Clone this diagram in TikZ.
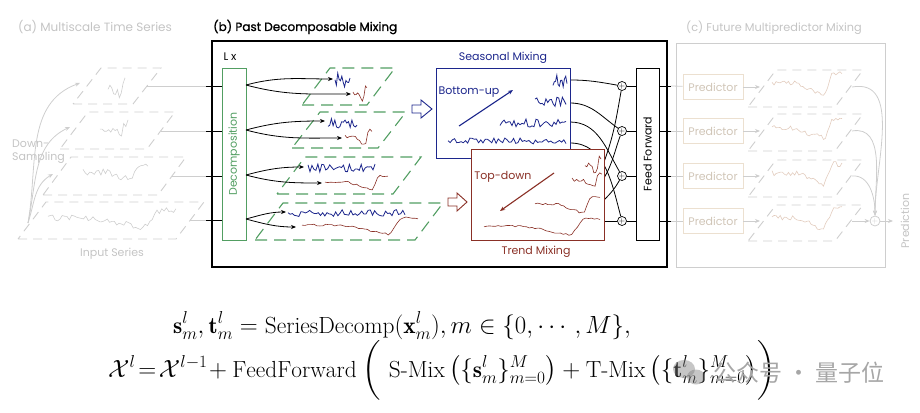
\documentclass[tikz,border=0pt]{standalone}
\usepackage{fontspec}
\usepackage{amsmath}
\newfontfamily\futura{Poppins}
\newfontfamily\futurab{Poppins}[FakeBold=1.2]
\newfontfamily\cjk{Noto Sans CJK SC}
\usetikzlibrary{arrows.meta}

\definecolor{fadegray}{RGB}{206,206,206}
\definecolor{fadetext}{RGB}{196,196,196}
\definecolor{decgreen}{RGB}{82,158,98}
\definecolor{seasblue}{RGB}{28,38,140}
\definecolor{trendred}{RGB}{138,48,38}
\definecolor{predbeige}{RGB}{236,224,208}
\definecolor{wavebeige}{RGB}{226,204,190}

\newcommand\slab[5]{\draw[#1] (#2,#5) -- ({#2+#3},#5) -- ({#2+#3+28},#4) -- ({#2+28},#4) -- cycle;}
\newcommand\noisy[6]{\draw[#1] plot[domain=#2:#3, samples=#6] (\x,{#4+#5*rand});}
\newcommand\trendy[7]{\draw[#1] plot[domain=0:1, samples=#7] ({#2+(#3-#2)*\x},{#4+#5*trendshape(\x)+#6*rand});}

\tikzset{
  graylayer/.style={fadegray, line width=0.9pt, dash pattern=on 9pt off 6pt},
  greenlayer/.style={decgreen, line width=1.1pt, dash pattern=on 12pt off 7pt},
  graywave/.style={fadegray, line width=0.6pt},
  bluewave/.style={seasblue, line width=0.8pt},
  redwave/.style={trendred, line width=0.6pt},
  beigewave/.style={wavebeige, line width=0.6pt},
  lbl/.style={font=\futura\fontsize{11}{13}\selectfont, inner sep=0pt},
  ttl/.style={font=\futura\fontsize{12}{14}\selectfont, inner sep=0pt, text=fadetext},
  sumnode/.style={draw, circle, minimum size=9pt, inner sep=0pt, fill=white, line width=0.7pt, font=\fontsize{8}{8}\selectfont},
  predbox/.style={lbl, draw=predbeige, text=predbeige!88!black, line width=0.9pt, minimum width=60pt, minimum height=25pt},
  conn/.style={line width=0.8pt},
}

\begin{document}
\begin{tikzpicture}[x=1pt, y=-1pt, >={Stealth[length=5pt,width=4pt]},
  declare function={trendshape(\t)=(\t<0.35)*0+(\t>0.35)*(\t<0.75)*(\t-0.35)*2+(\t>0.75)*max(-0.6,0.8-(\t-0.75)*14);}]
\useasboundingbox (0,0) rectangle (920,412);
\pgfmathsetseed{7}

\node[ttl] (atitle) at (95,27) {(a) Multiscale Time Series};
\slab{graylayer}{73}{60}{68}{104}
\slab{graylayer}{60}{87}{112}{149}
\slab{graylayer}{43}{115}{157}{195}
\slab{graylayer}{18}{158}{202}{239}
\trendy{graywave}{108}{125}{88}{10}{6}{10}
\trendy{graywave}{100}{128}{128}{8}{4}{14}
\trendy{graywave}{83}{148}{172}{10}{3}{30}
\trendy{graywave}{48}{176}{218}{12}{3}{55}
\node[lbl, text=fadetext, anchor=west, align=left] (down) at (12,152) {Down-\\Sampling};
\node[lbl, text=fadetext] (input) at (112,254) {Input Series};
\coordinate (ds) at (28,223);
\coordinate (a1) at (80,83);
\coordinate (a2) at (70,127);
\coordinate (a3) at (53,174);
\draw[fadegray, conn, ->] (ds) to[out=80, in=200] (a1);
\draw[fadegray, conn, ->] (ds) to[out=78, in=205] (a2);
\draw[fadegray, conn, ->] (ds) to[out=72, in=210] (a3);
\coordinate (in1) at (147,86);
\coordinate (in2) at (161,131);
\coordinate (in3) at (172,176);
\coordinate (in4) at (190,220);
\coordinate (fb1) at (206,86);
\coordinate (fb2) at (206,131);
\coordinate (fb3) at (206,176);
\coordinate (fb4) at (206,220);
\draw[fadegray, conn] (in1) -- (fb1);
\draw[fadegray, conn] (in2) -- (fb2);
\draw[fadegray, conn] (in3) -- (fb3);
\draw[fadegray, conn] (in4) -- (fb4);

\node[inner sep=0pt, anchor=west, font=\futurab\fontsize{12}{14}\selectfont] (btitle) at (213,27) {(b) Past Decomposable Mixing};
\draw[line width=1.3pt] (212,41) rectangle (667,267);
\node[lbl] (lx) at (230,57) {L x};
\node[draw=decgreen, line width=1pt, minimum width=24pt, minimum height=172pt] (decomp) at (234,154) {};
\node[lbl, text=decgreen, rotate=90] (decomptext) at (decomp.center) {Decomposition};
\coordinate (dw1) at (222,86);
\coordinate (dw2) at (222,131);
\coordinate (dw3) at (222,176);
\coordinate (dw4) at (222,220);
\draw[conn] (fb1) -- (dw1);
\draw[conn] (fb2) -- (dw2);
\draw[conn] (fb3) -- (dw3);
\draw[conn] (fb4) -- (dw4);

\slab{greenlayer}{302}{65}{68}{105}
\slab{greenlayer}{292}{86}{112}{148}
\slab{greenlayer}{277}{116}{157}{194}
\slab{greenlayer}{255}{160}{203}{240}
\noisy{bluewave}{335}{350}{80}{7}{12}
\noisy{bluewave}{328}{357}{123}{5}{18}
\noisy{bluewave}{308}{375}{168}{4}{35}
\noisy{bluewave}{288}{405}{213}{3.5}{55}
\trendy{redwave}{353}{367}{93}{10}{2}{10}
\trendy{redwave}{345}{372}{137}{10}{2}{14}
\trendy{redwave}{325}{388}{182}{10}{1}{25}
\trendy{redwave}{302}{418}{225}{12}{1}{40}
\coordinate (d1) at (246,85);
\coordinate (d2) at (246,130);
\coordinate (d3) at (246,175);
\coordinate (d4) at (246,219);
\coordinate (s1) at (333,79);
\coordinate (t1) at (351,94);
\coordinate (s2) at (325,121);
\coordinate (t2) at (342,138);
\coordinate (s3) at (304,167);
\coordinate (t3) at (322,183);
\coordinate (s4) at (286,212);
\coordinate (t4) at (296,227);
\draw[conn, ->] (d1) to[out=15, in=180] (s1);
\draw[conn, ->] (d1) to[out=-15, in=180] (t1);
\draw[conn, ->] (d2) to[out=15, in=180] (s2);
\draw[conn, ->] (d2) to[out=-15, in=180] (t2);
\draw[conn, ->] (d3) to[out=15, in=180] (s3);
\draw[conn, ->] (d3) to[out=-15, in=180] (t3);
\draw[conn, ->] (d4) to[out=15, in=180] (s4);
\draw[conn, ->] (d4) to[out=-15, in=180] (t4);

\draw[seasblue, line width=0.9pt, fill=white] (412,105) -- (421,105) -- (421,100) -- (432,109) -- (421,118) -- (421,113) -- (412,113) -- cycle;
\draw[trendred, line width=0.9pt, fill=white] (448,198) -- (457,198) -- (457,193) -- (467,202) -- (457,211) -- (457,206) -- (448,206) -- cycle;

\coordinate (sa1) at (570,80);
\coordinate (sa2) at (570,103);
\coordinate (sa3) at (570,122);
\coordinate (sa4) at (570,143);
\coordinate (ta1) at (604,162);
\coordinate (ta2) at (604,178);
\coordinate (ta3) at (604,200);
\coordinate (ta4) at (604,221);
\node[sumnode] (c1) at (622,86) {$+$};
\node[sumnode] (c2) at (622,131) {$+$};
\node[sumnode] (c3) at (622,176) {$+$};
\node[sumnode] (c4) at (622,221) {$+$};
\draw[conn] (sa1) to[out=0, in=170] (c1);
\draw[conn] (sa2) to[out=0, in=145] (c2);
\draw[conn] (sa3) to[out=0, in=120] (c3);
\draw[conn] (sa4) to[out=0, in=105] (c4);
\draw[conn] (ta1) to[out=70, in=-100] (c1);
\draw[conn] (ta2) to[out=60, in=-110] (c2);
\draw[conn] (ta3) to[out=45, in=-120] (c3);
\draw[conn] (ta4) -- (c4);

\node[draw=seasblue, line width=1pt, fill=white, minimum width=134pt, minimum height=90pt] (sbox) at (503,113) {};
\node[lbl, text=seasblue] (stitle) at (503,58) {Seasonal Mixing};
\node[lbl, text=seasblue] (bu) at (469,92) {Bottom-up};
\coordinate (bua) at (459,126);
\coordinate (bub) at (513,90);
\draw[seasblue, line width=1.1pt, ->] (bua) -- (bub);
\noisy{bluewave}{553}{567}{82}{7}{12}
\noisy{bluewave}{535}{566}{102}{5}{18}
\noisy{bluewave}{500}{566}{123}{4}{34}
\noisy{bluewave}{448}{566}{141}{3}{55}

\node[draw=trendred, line width=1pt, fill=white, minimum width=133pt, minimum height=91pt] (tbox) at (537.5,194.5) {};
\node[lbl, text=trendred] (ttitle) at (536,252) {Trend Mixing};
\node[lbl, text=trendred] (td) at (503,177) {Top-down};
\coordinate (tda) at (554,173);
\coordinate (tdb) at (500,211);
\draw[trendred, line width=1.1pt, ->] (tda) -- (tdb);
\trendy{redwave}{585}{601}{166}{12}{3}{10}
\trendy{redwave}{572}{602}{180}{10}{2}{14}
\trendy{redwave}{535}{600}{204}{12}{1}{26}
\trendy{redwave}{484}{600}{226}{12}{1}{42}

\node[draw, line width=1pt, minimum width=23pt, minimum height=172pt] (ff) at (647.5,154) {};
\node[lbl, rotate=90] (fftext) at (ff.center) {Feed Forward};
\coordinate (fi1) at (636,86);
\coordinate (fi2) at (636,131);
\coordinate (fi3) at (636,176);
\coordinate (fi4) at (636,221);
\draw[conn] (c1) -- (fi1);
\draw[conn] (c2) -- (fi2);
\draw[conn] (c3) -- (fi3);
\draw[conn] (c4) -- (fi4);
\coordinate (fo1) at (659,86);
\coordinate (fo2) at (659,131);
\coordinate (fo3) at (659,176);
\coordinate (fo4) at (659,221);
\coordinate (fe1) at (671,86);
\coordinate (fe2) at (671,131);
\coordinate (fe3) at (671,176);
\coordinate (fe4) at (671,221);
\draw[conn] (fo1) -- (fe1);
\draw[conn] (fo2) -- (fe2);
\draw[conn] (fo3) -- (fe3);
\draw[conn] (fo4) -- (fe4);

\node[ttl, font=\futura\fontsize{11.3}{13}\selectfont] (ctitle) at (774,28) {(c) Future Multipredictor Mixing};
\draw[fadegray, line width=0.9pt] (676,43) rectangle (885,267);
\node[predbox] (p1) at (713,87) {Predictor};
\node[predbox] (p2) at (713,131) {Predictor};
\node[predbox] (p3) at (713,176) {Predictor};
\node[predbox] (p4) at (713,221) {Predictor};
\draw[fadegray, conn] (fe1) -- (p1);
\draw[fadegray, conn] (fe2) -- (p2);
\draw[fadegray, conn] (fe3) -- (p3);
\draw[fadegray, conn] (fe4) -- (p4);
\coordinate (q1) at (760,87);
\coordinate (q2) at (760,131);
\coordinate (q3) at (760,176);
\coordinate (q4) at (760,221);
\draw[fadegray, conn, ->] (p1) -- (q1);
\draw[fadegray, conn, ->] (p2) -- (q2);
\draw[fadegray, conn, ->] (p3) -- (q3);
\draw[fadegray, conn, ->] (p4) -- (q4);
\slab{graylayer}{748}{87}{70}{107}
\slab{graylayer}{748}{87}{114}{151}
\slab{graylayer}{748}{87}{160}{197}
\slab{graylayer}{748}{87}{205}{241}
\trendy{beigewave}{772}{842}{83}{16}{2}{35}
\trendy{beigewave}{772}{842}{128}{14}{3}{35}
\trendy{beigewave}{772}{842}{173}{14}{3}{35}
\trendy{beigewave}{772}{842}{218}{14}{3}{35}
\node[draw=fadegray, circle, minimum size=10pt, inner sep=0pt, line width=0.8pt, text=fadegray, font=\fontsize{8}{8}\selectfont] (cs) at (875,221) {$+$};
\coordinate (r1) at (852,87);
\coordinate (r2) at (852,131);
\coordinate (r3) at (852,176);
\coordinate (r4) at (852,221);
\draw[fadegray, conn, ->] (r1) to[out=10, in=90] (cs);
\draw[fadegray, conn, ->] (r2) to[out=10, in=90] (cs);
\draw[fadegray, conn, ->] (r3) to[out=5, in=90] (cs);
\draw[fadegray, conn, ->] (r4) -- (cs);
\coordinate (pr) at (893,221);
\draw[fadegray, conn, ->] (cs) -- (pr);
\node[lbl, text=fadetext, rotate=90] (pred) at (905,221) {Prediction};

\node[anchor=base west, inner sep=0pt] (eq1) at (173,333) {\fontsize{23.4}{28}\selectfont $\mathbf{s}^l_m, \mathbf{t}^l_m = \mathrm{SeriesDecomp}(\mathbf{x}^l_m), m \in \{0,\cdots,M\},$};
\node[anchor=base west, inner sep=0pt] (eq2) at (108,377) {\fontsize{23.3}{28}\selectfont $\mathcal{X}^l \!=\! \mathcal{X}^{l-1}\!+\mathrm{FeedForward}\hspace{6pt}\biggl(\hspace{8pt}\text{S-Mix}\left(\{\mathbf{s}^l_m\}^M_{m=0}\right) + \text{T-Mix}\left(\{\mathbf{t}^l_m\}^M_{m=0}\right)\biggr)$};
\fill[gray, opacity=0.45] (684,369) ellipse (11pt and 9pt);
\fill[gray, opacity=0.45] (696,377) ellipse (9pt and 7.5pt);
\node[anchor=base west, inner sep=0pt, text=gray!70] (wm) at (713,381) {\cjk\fontsize{23}{23}\selectfont 公众号 · 量子位};
\end{tikzpicture}
\end{document}
